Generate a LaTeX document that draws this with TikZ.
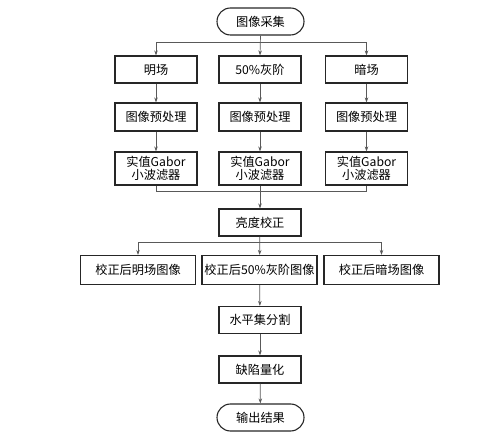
\documentclass[tikz,border=0pt]{standalone}
\usepackage{fontspec}
\setmainfont{Noto Sans CJK SC}
\usetikzlibrary{arrows.meta,shapes.misc}
\begin{document}
\begin{tikzpicture}[x=1pt,y=-1pt,
  box/.style={draw=black!85, line width=1.1pt, minimum width=82pt, minimum height=27pt, inner sep=0pt, align=center, font=\fontsize{12.2}{13.5}\selectfont},
  wide/.style={box, minimum width=115pt, minimum height=29pt},
  term/.style={box, rounded rectangle, minimum width=87pt},
  conn/.style={draw=black!65, line width=0.7pt, -{Stealth[length=5pt,width=3.5pt]}},
  plain/.style={draw=black!65, line width=0.7pt}]
\useasboundingbox (0,0) rectangle (495,443);
\node[term] (start) at (260.5,21.5) {图像采集};
\node[box] (a1) at (156,69.5) {明场};
\node[box] (a2) at (260,69.5) {50\%灰阶};
\node[box] (a3) at (366.5,69.5) {暗场};
\node[box, minimum height=28pt] (b1) at (156,117) {图像预处理};
\node[box, minimum height=28pt] (b2) at (260,117) {图像预处理};
\node[box, minimum height=28pt] (b3) at (366.5,117) {图像预处理};
\node[box, minimum height=33pt] (c1) at (156,168.5) {实值Gabor\\小波滤器};
\node[box, minimum height=33pt] (c2) at (260,168.5) {实值Gabor\\小波滤器};
\node[box, minimum height=33pt] (c3) at (366.5,168.5) {实值Gabor\\小波滤器};
\node[box] (d) at (260,222.5) {亮度校正};
\node[wide] (e1) at (138,270) {校正后明场图像};
\node[wide] (e2) at (259.5,270) {校正后50\%灰阶图像};
\node[wide] (e3) at (381.5,270) {校正后暗场图像};
\node[box] (f) at (260,320) {水平集分割};
\node[box] (g) at (260,369.5) {缺陷量化};
\node[term] (end) at (260.5,417.5) {输出结果};
\coordinate (s) at (260.5,42.7);
\coordinate (m) at (260,191.7);
\coordinate (sp) at (260,242.7);
\draw[conn] (start.south) -- (a2.north);
\draw[conn] (s) -| (a1.north);
\draw[conn] (s) -| (a3.north);
\draw[conn] (a1) -- (b1);
\draw[conn] (a2) -- (b2);
\draw[conn] (a3) -- (b3);
\draw[conn] (b1) -- (c1);
\draw[conn] (b2) -- (c2);
\draw[conn] (b3) -- (c3);
\draw[plain] (c1.south) |- (m);
\draw[plain] (c3.south) |- (m);
\draw[conn] (c2) -- (d);
\draw[conn] (d) -- (e2);
\draw[conn] (sp) -| (e1.north);
\draw[conn] (sp) -| (e3.north);
\draw[conn] (e2) -- (f);
\draw[conn] (f) -- (g);
\draw[conn] (g) -- (end);
\end{tikzpicture}
\end{document}
